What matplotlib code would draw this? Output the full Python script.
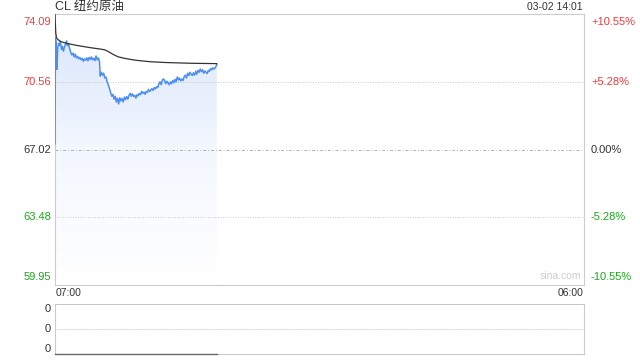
import numpy as np
import matplotlib
matplotlib.use("Agg")
import matplotlib.pyplot as plt
from matplotlib.colors import LinearSegmentedColormap

# minutes since 07:00, price
price_t = [0, 1, 3, 5, 7, 9, 12, 14, 17, 19, 22, 25, 28, 30, 32, 35, 38, 41, 44, 47,
           50, 53, 56, 59, 62, 65, 68, 71, 74, 77, 80, 83, 86, 89, 92, 95, 98, 101, 104, 107,
           110, 113, 116, 118, 121, 124, 127, 130, 133, 136, 139, 142, 145, 148, 151, 154, 157, 160, 163, 166,
           169, 172, 175, 178, 181, 184, 187, 190, 193, 196, 199, 202, 205, 208, 211, 214, 217, 220, 223, 226,
           229, 232, 235, 238, 241, 244, 247, 250, 253, 256, 259, 262, 265, 268, 271, 274, 277, 280, 283, 286,
           289, 292, 295, 298, 301, 304, 307, 310, 313, 316, 319, 322, 325, 328, 331, 334, 337, 340, 343, 346,
           349, 352, 355, 358, 361, 364, 367, 370, 373, 376, 379, 382, 385, 388, 391, 394, 397, 400, 403, 406,
           409, 412, 415, 418, 420, 422]
price = [67.31, 72.85, 72.60, 71.20, 72.30, 72.55, 72.45, 72.65, 72.25, 72.40, 72.15, 72.40, 72.55, 72.68, 72.45, 72.55, 72.30, 72.10, 71.95, 72.05,
         71.85, 72.00, 71.80, 71.88, 71.75, 71.82, 71.70, 71.78, 71.62, 71.75, 71.68, 71.80, 71.65, 71.82, 71.72, 71.85, 71.70, 71.78, 71.65, 71.90,
         71.70, 71.80, 71.62, 70.85, 71.05, 70.90, 71.00, 70.75, 70.80, 70.55, 70.40, 70.20, 70.00, 69.80, 69.90, 69.65, 69.80, 69.50, 69.70, 69.40,
         69.72, 69.55, 69.68, 69.50, 69.75, 69.62, 69.78, 69.65, 69.85, 69.95, 69.80, 69.92, 69.78, 69.85, 69.70, 69.88, 69.82, 69.95, 69.88, 70.05,
         69.95, 70.02, 69.90, 70.05, 70.00, 70.15, 70.05, 70.12, 70.20, 70.10, 70.25, 70.18, 70.30, 70.25, 70.45, 70.55, 70.40, 70.65, 70.70, 70.62,
         70.45, 70.58, 70.50, 70.40, 70.55, 70.45, 70.62, 70.50, 70.68, 70.55, 70.80, 70.65, 70.75, 70.60, 70.70, 70.62, 70.82, 70.90, 70.75, 71.00,
         70.88, 71.05, 70.95, 70.88, 71.02, 70.90, 71.10, 70.95, 71.15, 71.05, 71.22, 71.08, 71.18, 71.00, 71.12, 71.05, 70.98, 71.15, 71.10, 71.25,
         71.18, 71.28, 71.22, 71.30, 71.35, 71.45]

avg_t = [0, 1, 2, 4, 8, 15, 30, 60, 90, 115, 130, 140, 151, 164, 183, 209, 248, 287, 352, 422]
avg_price = [74.09, 73.55, 73.10, 72.85, 72.75, 72.65, 72.56, 72.44, 72.34, 72.27, 72.22, 72.12, 71.99, 71.86, 71.77, 71.68, 71.60, 71.56, 71.52, 71.50]

prev_close = 67.02
price_ticks = [74.09, 70.56, 67.02, 63.48, 59.95]
pct_labels = ["+10.55%", "+5.28%", "0.00%", "-5.28%", "-10.55%"]
tick_colors = ["#f23a3a", "#f23a3a", "#333333", "#1aaa1a", "#1aaa1a"]
vol_labels = ["0", "0", "0"]

FONT = ["Liberation Sans", "Noto Sans CJK SC"]
FULL = 1380  # 07:00 -> 06:00

fig = plt.figure(figsize=(6.4, 3.6), dpi=100)
ax = fig.add_axes([55 / 640, 1 - 285 / 360, 529 / 640, 271 / 360])
vax = fig.add_axes([55 / 640, 1 - 354 / 360, 529 / 640, 50 / 360])

ax.set_xlim(0, FULL)
ax.set_ylim(price_ticks[-1], price_ticks[0])

# gradient fill under the price line
cmap = LinearSegmentedColormap.from_list("g", ["#ffffff", "#f3f7fe", "#d8e5fb"])
grad = np.linspace(0, 1, 256).reshape(-1, 1)
img = ax.imshow(grad, cmap=cmap, aspect="auto", origin="lower",
                extent=[0, price_t[-1], price_ticks[-1], price_ticks[0]], zorder=1)
poly = ax.fill_between(price_t, price, price_ticks[-1], color="none", lw=0)
img.set_clip_path(poly.get_paths()[0], transform=ax.transData)

ax.plot(price_t, price, color="#4d8ef0", lw=1.1, zorder=3)
ax.plot(avg_t, avg_price, color="#333333", lw=0.9, zorder=3)

for p in price_ticks[1:-1]:
    if p == prev_close:
        ax.axhline(p, color="#b0b0b0", lw=0.7, ls=(0, (3, 2, 1, 2)), zorder=2)
    else:
        ax.axhline(p, color="#bbbbbb", lw=0.6, ls=(0, (1, 2)), zorder=2)

for s in ax.spines.values():
    s.set_color("#cccccc")
    s.set_linewidth(0.8)
ax.set_xticks([])
ax.set_yticks([])

# price and percent labels
for i, (p, lab, c) in enumerate(zip(price_ticks, pct_labels, tick_colors)):
    va = "top" if i == 0 else ("bottom" if i == len(price_ticks) - 1 else "center")
    off = -2 if i == 0 else (2 if i == len(price_ticks) - 1 else 0)
    ax.annotate(f"{p:.2f}", (0, p), xycoords=("axes fraction", "data"),
                xytext=(-3, off), textcoords="offset points", ha="right", va=va,
                fontsize=8, color=c, family=FONT)
    ax.annotate(lab, (1, p), xycoords=("axes fraction", "data"),
                xytext=(5, off), textcoords="offset points", ha="left", va=va,
                fontsize=8, color=c, family=FONT)

fig.text(55 / 640, 1 - 7 / 360, "CL 纽约原油", ha="left", va="center",
         fontsize=9, color="#333333", family=FONT)
fig.text(583 / 640, 1 - 7 / 360, "03-02 14:01", ha="right", va="center",
         fontsize=7.5, color="#333333", family=FONT)
fig.text(56 / 640, 1 - 293 / 360, "07:00", ha="left", va="center",
         fontsize=7.5, color="#333333", family=FONT)
fig.text(583 / 640, 1 - 293 / 360, "06:00", ha="right", va="center",
         fontsize=7.5, color="#333333", family=FONT)
ax.text(0.995, 0.015, "sina.com", transform=ax.transAxes, ha="right", va="bottom",
        fontsize=7.5, color="#cccccc", family=FONT)

# volume panel (empty)
vol_t = [0, price_t[-1]]
vol = [0, 0]
vax.set_xlim(0, FULL)
vax.set_ylim(0, 2)
vax.plot(vol_t, vol, color="#666666", lw=1.0, zorder=3, clip_on=False)
vax.axhline(1, color="#bbbbbb", lw=0.6, ls=(0, (1, 1)))
for k in ("top", "bottom"):
    vax.spines[k].set_color("#bbbbbb")
    vax.spines[k].set_linestyle((0, (1, 1)))
    vax.spines[k].set_linewidth(0.6)
for k in ("left", "right"):
    vax.spines[k].set_color("#cccccc")
    vax.spines[k].set_linewidth(0.8)
vax.set_xticks([])
vax.set_yticks([])
for y, lab, va in zip([2, 1, 0], vol_labels, ["top", "center", "bottom"]):
    vax.annotate(lab, (0, y), xycoords=("axes fraction", "data"),
                 xytext=(-3, 0), textcoords="offset points", ha="right", va=va,
                 fontsize=8, color="#333333", family=FONT)

fig.savefig("out.png", dpi=100)
